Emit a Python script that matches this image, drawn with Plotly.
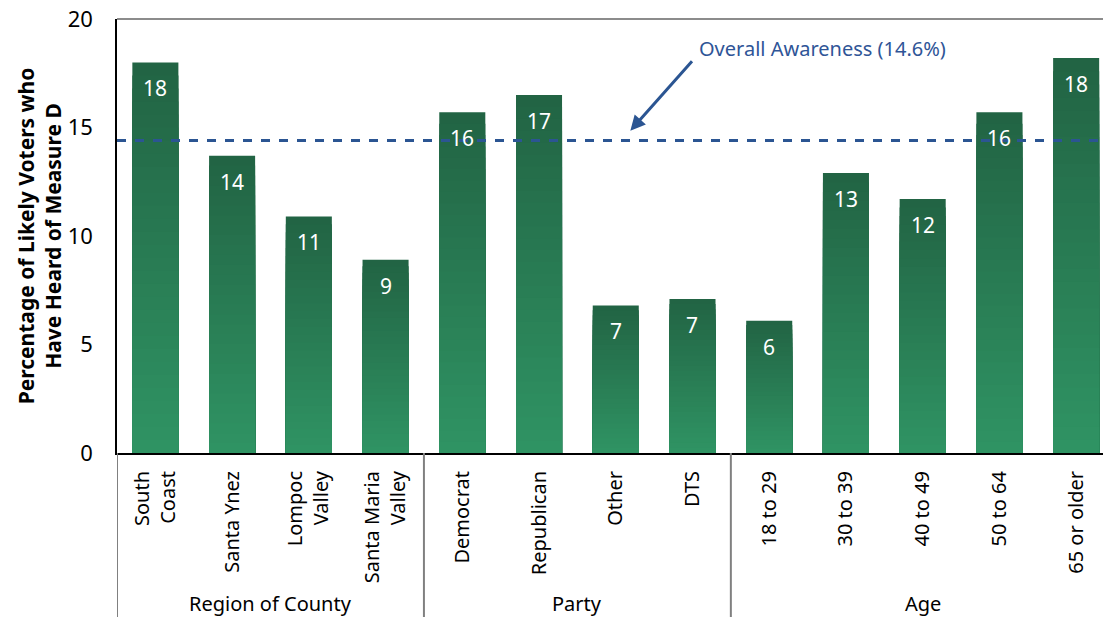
import plotly.graph_objects as go

categories = ["South<br>Coast", "Santa Ynez", "Lompoc<br>Valley", "Santa Maria<br>Valley",
              "Democrat", "Republican", "Other", "DTS",
              "18 to 29", "30 to 39", "40 to 49", "50 to 64", "65 or older"]
values = [18.0, 13.7, 10.9, 8.9, 15.7, 16.5, 6.8, 7.1, 6.1, 12.9, 11.7, 15.7, 18.2]
labels = ["18", "14", "11", "9", "16", "17", "7", "7", "6", "13", "12", "16", "18"]
groups = ["Region of County", "Party", "Age"]
group_sizes = [4, 4, 5]
overall = 14.4
overall_text = "Overall Awareness (14.6%)"

TOP = (34, 100, 68)
BOT = (47, 147, 99)
N = 30

fig = go.Figure()
xs = list(range(len(categories)))
for k in range(N):
    frac = (N - k) / N
    t = k / (N - 1)
    c = tuple(round(TOP[j] + (BOT[j] - TOP[j]) * t) for j in range(3))
    fig.add_trace(go.Bar(
        x=xs, y=[v * frac for v in values],
        marker=dict(color="rgb(%d,%d,%d)" % c, line=dict(width=0)),
        width=0.6, hoverinfo="skip", showlegend=False))

fig.update_layout(barmode="overlay")

for i, (v, lab) in enumerate(zip(values, labels)):
    fig.add_annotation(x=i, y=v, text=lab, showarrow=False, yanchor="top", yshift=-10,
                       font=dict(family="Noto Sans", size=21, color="white"))

# overall awareness line
fig.add_shape(type="line", xref="paper", yref="y", x0=0, x1=1, y0=overall, y1=overall,
              line=dict(color="#2b5592", width=3, dash="dash"))
fig.add_annotation(x=6.19, y=overall + 0.45, ax=63, ay=-71, text="", showarrow=True,
                   arrowhead=2, arrowsize=1, arrowwidth=3, arrowcolor="#2b5592")
fig.add_annotation(x=7.06, y=18.66, text=overall_text, showarrow=False, xanchor="left",
                   yanchor="middle", font=dict(family="Noto Sans", size=20, color="#2f5597"))

# top border
fig.add_shape(type="line", xref="paper", yref="paper", x0=0, x1=1, y0=1, y1=1,
              line=dict(color="#8c8c8c", width=2))

# group dividers and labels
start = 0
for g, n in zip(groups, group_sizes):
    fig.add_shape(type="line", xref="x", yref="paper", x0=start - 0.5, x1=start - 0.5,
                  y0=0, y1=-0.38, line=dict(color="#808080", width=2))
    fig.add_annotation(x=start + (n - 1) / 2, y=-0.346, xref="x", yref="paper", text=g,
                       showarrow=False, yanchor="middle",
                       font=dict(family="Noto Sans", size=20, color="black"))
    start += n

fig.update_xaxes(tickmode="array", tickvals=xs, ticktext=categories, tickangle=-90,
                 range=[-0.5, 12.35], showline=True, linecolor="black", linewidth=2,
                 ticks="", ticklabelstandoff=8, showgrid=False, zeroline=False,
                 tickfont=dict(family="Noto Sans", size=20, color="black"))
fig.update_yaxes(range=[0, 20], dtick=5, showline=True, linecolor="black", linewidth=1.5,
                 ticks="", ticklabelstandoff=18, showgrid=False, zeroline=False,
                 tickfont=dict(family="Noto Sans", size=22, color="black"),
                 title=dict(text="Percentage of Likely Voters who<br>Have Heard of Measure D",
                            font=dict(family="Noto Sans", size=21, color="black", weight="bold"),
                            standoff=0))

fig.update_layout(width=1103, height=617, margin=dict(l=117, r=0, t=19, b=164),
                  plot_bgcolor="white", paper_bgcolor="white", bargap=0.4)

fig.write_html("out.html", config={"displayModeBar": False},
               post_script="document.body.style.margin='0';")
